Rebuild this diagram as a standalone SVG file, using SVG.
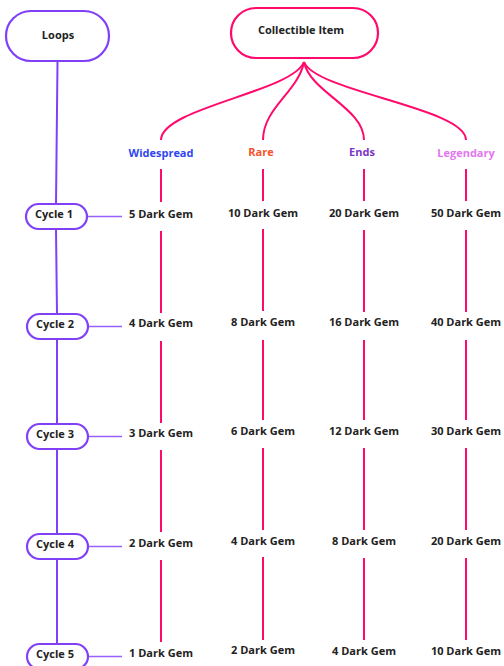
<svg xmlns="http://www.w3.org/2000/svg" width="504" height="666" viewBox="0 0 504 666">
<style>
text{font-family:"Open Sans","Noto Sans","Liberation Sans",sans-serif;font-weight:bold;font-size:11px;fill:#222;text-anchor:middle}
.pk{fill:none;stroke:#ff0a6c;stroke-width:2}
.pu{fill:#fff;stroke:#8040f8;stroke-width:2.2}
.pl{fill:none;stroke:#8040f8;stroke-width:2}
.ph{fill:none;stroke:#9a60ff;stroke-width:1.5}
</style>
<rect width="504" height="666" fill="#fff"/>
<g id="connectors">
<path class="pk" d="M304,62 C292,92 161,108 161,140"/>
<path class="pk" d="M304,62 C298,92 263,108 263,140"/>
<path class="pk" d="M304,62 C310,92 364,108 364,140"/>
<path class="pk" d="M304,62 C316,92 466,108 466,140"/>
<path class="pk" d="M161,169V202M161,231V313M161,341V423M161,450V532M161,560V642"/>
<path class="pk" d="M263,169V201M263,229V311M263,340V420M263,448V530M263,557V640"/>
<path class="pk" d="M364,169V201M364,230V312M364,340V420M364,448V530M364,558V640"/>
<path class="pk" d="M466,169V201M466,230V312M466,340V420M466,448V530M466,558V640"/>
<path class="pl" d="M57.5,62L56,204M56,229L57,314M57,339V424M57,449V534M57,559V644"/>
<path class="ph" d="M87,216.5H122M88,326.5H122M88,436.5H122M88,546.5H122M88,656.5H122"/>
</g>
<g id="loops"><rect class="pu" x="6" y="11" width="103" height="50" rx="25"/><text x="58" y="39">Loops</text></g>
<g id="collectible"><rect x="231" y="8" width="147" height="50" rx="25" fill="#fff" stroke="#ff0a6c" stroke-width="2.2"/><text x="301" y="34">Collectible Item</text></g>
<g id="cat-widespread"><text x="161" y="157" style="fill:#2f45f0">Widespread</text></g>
<g id="cat-rare"><text x="261" y="156" style="fill:#f5532c">Rare</text></g>
<g id="cat-ends"><text x="362" y="156" style="fill:#7a35c8">Ends</text></g>
<g id="cat-legendary"><text x="466" y="157" style="fill:#e277f0">Legendary</text></g>
<g id="cycle1"><rect class="pu" x="26" y="204" width="61" height="25" rx="12.5"/><text x="54" y="218">Cycle 1</text></g>
<g id="cycle2"><rect class="pu" x="27" y="314" width="61" height="25" rx="12.5"/><text x="55" y="328">Cycle 2</text></g>
<g id="cycle3"><rect class="pu" x="27" y="424" width="61" height="25" rx="12.5"/><text x="55" y="438">Cycle 3</text></g>
<g id="cycle4"><rect class="pu" x="27" y="534" width="61" height="25" rx="12.5"/><text x="55" y="548">Cycle 4</text></g>
<g id="cycle5"><rect class="pu" x="27" y="644" width="61" height="25" rx="12.5"/><text x="55" y="658">Cycle 5</text></g>
<g id="w1"><text x="161" y="218">5 Dark Gem</text></g>
<g id="w2"><text x="161" y="327">4 Dark Gem</text></g>
<g id="w3"><text x="161" y="437">3 Dark Gem</text></g>
<g id="w4"><text x="161" y="547">2 Dark Gem</text></g>
<g id="w5"><text x="161" y="657">1 Dark Gem</text></g>
<g id="r1"><text x="263" y="217">10 Dark Gem</text></g>
<g id="r2"><text x="263" y="326">8 Dark Gem</text></g>
<g id="r3"><text x="263" y="435">6 Dark Gem</text></g>
<g id="r4"><text x="263" y="545">4 Dark Gem</text></g>
<g id="r5"><text x="263" y="654">2 Dark Gem</text></g>
<g id="e1"><text x="364" y="217">20 Dark Gem</text></g>
<g id="e2"><text x="364" y="326">16 Dark Gem</text></g>
<g id="e3"><text x="364" y="435">12 Dark Gem</text></g>
<g id="e4"><text x="364" y="545">8 Dark Gem</text></g>
<g id="e5"><text x="364" y="655">4 Dark Gem</text></g>
<g id="l1"><text x="466" y="217">50 Dark Gem</text></g>
<g id="l2"><text x="466" y="326">40 Dark Gem</text></g>
<g id="l3"><text x="466" y="435">30 Dark Gem</text></g>
<g id="l4"><text x="466" y="545">20 Dark Gem</text></g>
<g id="l5"><text x="466" y="655">10 Dark Gem</text></g>
</svg>
